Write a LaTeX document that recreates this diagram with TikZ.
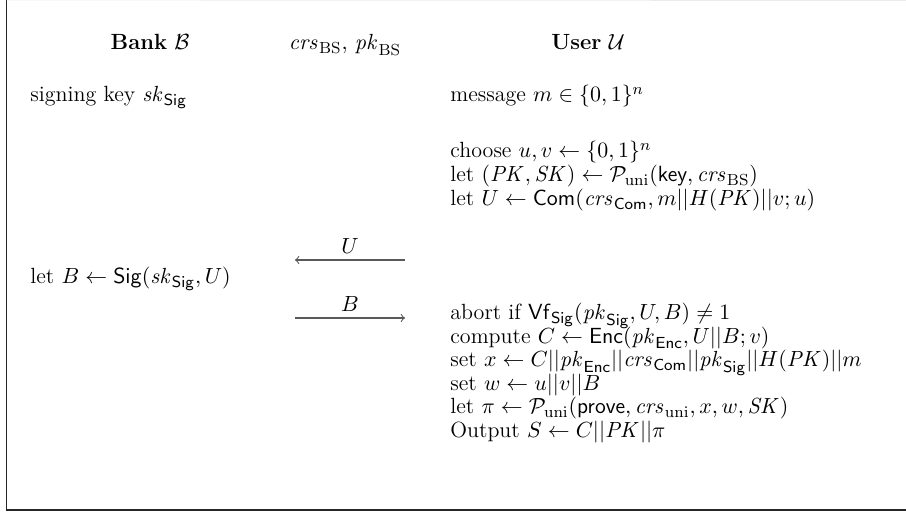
\documentclass[tikz,border=0pt]{standalone}
\usepackage{amsmath,amssymb}
\begin{document}
\begin{tikzpicture}[x=0.5pt,y=-0.5pt,
  every node/.style={font=\fontsize{11}{13.5}\selectfont},
  txt/.style={anchor=base west, inner sep=0pt},
  hdr/.style={anchor=base, inner sep=0pt},
  msg/.style={->, draw=black!65, line width=0.55pt},
  lab/.style={inner sep=0pt, above=3pt, text=black},
  frameline/.style={line width=0.65pt, draw=black!85}]
\useasboundingbox (0,0) rectangle (906,512);
% frame
\coordinate (ftl) at (6.7,0);
\coordinate (fbl) at (6.7,510);
\coordinate (fbr) at (906,510);
\coordinate (ftr) at (906,0.5);
\draw[frameline] (ftl) -- (fbl) -- (fbr);
\draw[black!8, line width=0.4pt] (ftl) -- (ftr);
% headers
\node[hdr] (bank) at (150,50) {\textbf{Bank} $\mathcal{B}$};
\node[hdr] (crs) at (345,50) {$\mathit{crs}_{\mathrm{BS}},\, \mathit{pk}_{\mathrm{BS}}$};
\node[hdr] (user) at (588,50) {\textbf{User} $\mathcal{U}$};
% bank column
\node[txt] (sk) at (30,102) {signing key $\mathit{sk}_{\mathsf{Sig}}$};
\node[txt] (sig) at (30,284) {let $B \leftarrow \mathsf{Sig}(\mathit{sk}_{\mathsf{Sig}}, U)$};
% user column
\node[txt] (m) at (450,102) {message $m \in \{0,1\}^n$};
\node[txt] (u1) at (450,158) {choose $u, v \leftarrow \{0,1\}^n$};
\node[txt] (u2) at (450,182) {let $(\mathit{PK},\mathit{SK}) \leftarrow \mathcal{P}_{\mathrm{uni}}(\textsf{key}, \mathit{crs}_{\mathrm{BS}})$};
\node[txt] (u3) at (450,206) {let $U \leftarrow \mathsf{Com}(\mathit{crs}_{\mathsf{Com}}, m||H(\mathit{PK})||v;u)$};
\node[txt] (v1) at (450,320) {abort if $\mathsf{Vf}_{\mathsf{Sig}}(\mathit{pk}_{\mathsf{Sig}}, U, B) \neq 1$};
\node[txt] (v2) at (450,343.5) {compute $C \leftarrow \mathsf{Enc}(\mathit{pk}_{\mathsf{Enc}}, U||B;v)$};
\node[txt] (v3) at (450,367) {set $x \leftarrow C||\mathit{pk}_{\mathsf{Enc}}||\mathit{crs}_{\mathsf{Com}}||\mathit{pk}_{\mathsf{Sig}}||H(\mathit{PK})||m$};
\node[txt] (v4) at (450,390.5) {set $w \leftarrow u||v||B$};
\node[txt] (v5) at (450,414) {let $\pi \leftarrow \mathcal{P}_{\mathrm{uni}}(\textsf{prove}, \mathit{crs}_{\mathrm{uni}}, x, w, \mathit{SK})$};
\node[txt] (v6) at (450,437.5) {Output $S \leftarrow C||\mathit{PK}||\pi$};
% messages
\coordinate (uL) at (295,260);
\coordinate (uR) at (405,260);
\coordinate (bL) at (295,318);
\coordinate (bR) at (405,318);
\draw[msg] (uR) -- node[lab] (ulab) {$U$} (uL);
\draw[msg] (bL) -- node[lab] (blab) {$B$} (bR);
\end{tikzpicture}
\end{document}
